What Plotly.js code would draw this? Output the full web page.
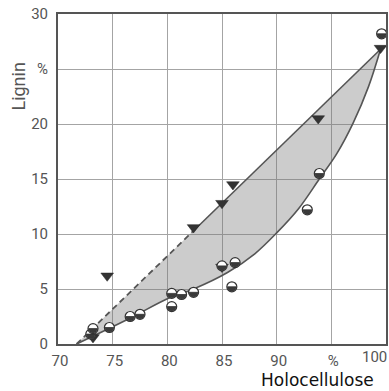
<!DOCTYPE html>
<html>
<head>
<meta charset="utf-8">
<script src="https://cdn.plot.ly/plotly-3.0.1.min.js"></script>
<style>html,body{margin:0;padding:0;background:#fff;}#chart{width:389px;height:391px;}</style>
</head>
<body>
<div id="chart"></div>
<script>
// Triangles (down)
const triX = [73.2, 74.5, 82.4, 85.0, 86.0, 85.0, 93.8, 99.5];
const triY = [0.6, 6.2, 10.6, 12.8, 14.5, 7.0, 20.5, 26.9];
// Half-filled circles
const circX = [73.0, 73.2, 74.7, 76.6, 77.5, 80.4, 80.4, 81.3, 82.4, 85.0, 86.2, 85.9, 92.8, 93.9, 99.6];
const circY = [0.9, 1.4, 1.5, 2.5, 2.7, 4.6, 3.4, 4.5, 4.7, 7.1, 7.4, 5.2, 12.2, 15.5, 28.2];
// Envelope: upper straight boundary (dashed part, solid part) and lower curve
const upperDashX = [71.7, 82.4];
const upperDashY = [0.0, 10.3];
const upperSolidX = [82.4, 99.5];
const upperSolidY = [10.3, 26.8];
const lowerX = [71.7, 76.3, 80.2, 82.4, 85.5, 88.0, 90.0, 92.0, 93.9, 95.5, 97.0, 98.4, 99.5];
const lowerY = [0.0, 2.2, 4.2, 5.0, 6.5, 8.2, 10.1, 12.3, 15.0, 17.3, 20.1, 23.4, 26.8];
// Tick labels
const xTickVals = [70, 75, 80, 85, 90, 95, 100];
const xTickText = ['70', '75', '80', '85', '90', '%', '100'];
const yTickVals = [0, 5, 10, 15, 20, 25, 30];
const yTickText = ['0', '5', '10', '15', '20', '%', '30'];

const polyX = upperDashX.concat(upperSolidX.slice(1)).concat(lowerX.slice().reverse());
const polyY = upperDashY.concat(upperSolidY.slice(1)).concat(lowerY.slice().reverse());

const lineCol = '#555';
const traces = [
  {x: polyX, y: polyY, mode: 'lines', fill: 'toself', fillcolor: 'rgba(120,120,120,0.38)',
   line: {width: 0}, hoverinfo: 'skip'},
  {x: upperDashX, y: upperDashY, mode: 'lines', line: {color: lineCol, width: 1.8, dash: '6px,4px'}},
  {x: upperSolidX, y: upperSolidY, mode: 'lines', line: {color: lineCol, width: 1.6}},
  {x: lowerX, y: lowerY, mode: 'lines', line: {color: lineCol, width: 1.6, shape: 'spline'}},
  {x: triX, y: triY, mode: 'markers',
   marker: {symbol: 'triangle-down', size: 11, color: '#333', line: {color: '#222', width: 0.5}}},
  {x: circX, y: circY, mode: 'markers', name: 'circles',
   marker: {symbol: 'circle', size: 10, color: '#ffffff', line: {color: '#333', width: 1.2}}}
];

const axFont = {family: 'Roboto, sans-serif', size: 15, color: '#555'};
// the last x label ("100") is drawn right-aligned inside the figure
const xTickShown = xTickText.map((t, i) => i === xTickText.length - 1 ? '' : t);
const layout = {
  width: 389, height: 391,
  margin: {l: 58, r: 3, t: 14, b: 47},
  paper_bgcolor: '#fff', plot_bgcolor: '#fff',
  showlegend: false,
  xaxis: {range: [70, 100], tickvals: xTickVals, ticktext: xTickShown, tickfont: axFont,
          showgrid: true, gridcolor: '#a4a4a4', gridwidth: 1, zeroline: false,
          showline: true, mirror: true, linecolor: '#555', linewidth: 2, ticks: '',
          ticklabelstandoff: 2, ticklabelshift: 2},
  yaxis: {range: [0, 30], tickvals: yTickVals, ticktext: yTickText, tickfont: axFont,
          showgrid: true, gridcolor: '#a4a4a4', gridwidth: 1, zeroline: false,
          showline: true, mirror: true, linecolor: '#555', linewidth: 2, ticks: '', ticklabelstandoff: 5},
  annotations: [
    {text: 'Lignin', xref: 'paper', yref: 'paper', x: -0.119, y: 0.78, textangle: -90,
     xanchor: 'center', yanchor: 'middle',
     showarrow: false, font: {family: 'Roboto, sans-serif', size: 18, color: '#555'}},
    {text: 'Holocellulose', xref: 'paper', yref: 'paper', x: 0.79, y: -0.109,
     xanchor: 'center', yanchor: 'middle',
     showarrow: false, font: {family: 'DejaVu Sans, sans-serif', size: 17, color: '#111'}},
    {text: xTickText[xTickText.length - 1], xref: 'paper', yref: 'paper', x: 1.01, y: -0.038,
     xanchor: 'right', yanchor: 'middle', showarrow: false, font: axFont}
  ]
};

function halfFill(gd) {
  const traceGroups = gd.querySelectorAll('.scatterlayer .trace');
  const grp = traceGroups[traceGroups.length - 1];
  if (!grp) return;
  grp.querySelectorAll('.halfdisc').forEach(n => n.remove());
  grp.querySelectorAll('path.point').forEach(p => {
    const r = 4.4;
    const half = document.createElementNS('http://www.w3.org/2000/svg', 'path');
    half.setAttribute('class', 'halfdisc');
    half.setAttribute('d', `M${-r},0A${r},${r} 0 0,0 ${r},0Z`);
    half.setAttribute('transform', p.getAttribute('transform'));
    half.setAttribute('style', 'fill:#3a3a3a;stroke:#333;stroke-width:0.8');
    p.parentNode.insertBefore(half, p.nextSibling);
  });
}
const gd = document.getElementById('chart');
Plotly.newPlot(gd, traces, layout, {staticPlot: true}).then(() => halfFill(gd));
</script>
</body>
</html>
